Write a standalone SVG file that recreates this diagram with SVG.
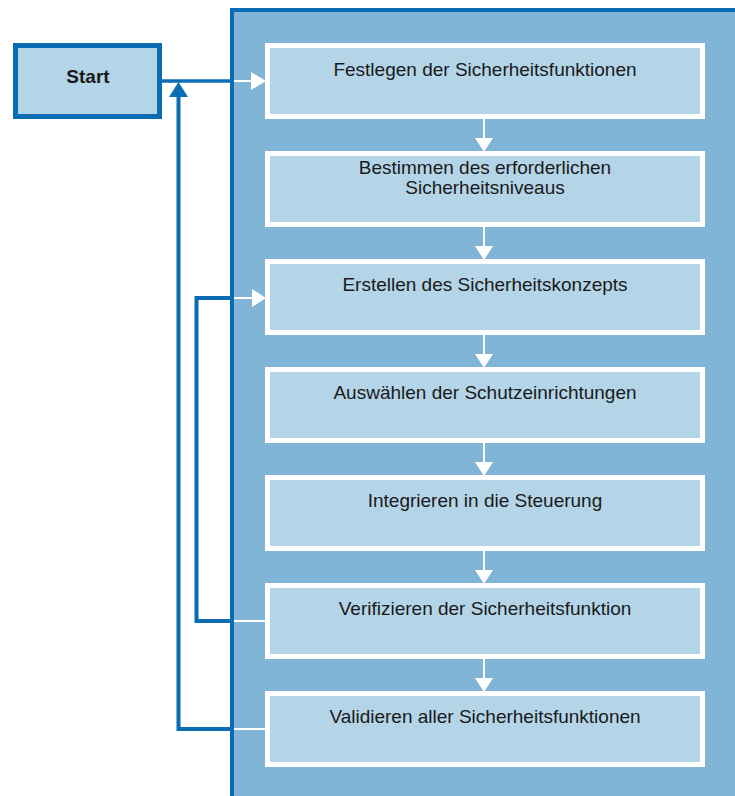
<svg xmlns="http://www.w3.org/2000/svg" width="735" height="796" viewBox="0 0 735 796">
<style>
.box{fill:#b4d4e8;stroke:#ffffff;stroke-width:5}
.lbl{font-family:"Liberation Sans",Arial,sans-serif;font-size:19px;fill:#1a1a1a;text-anchor:middle}
.blue{fill:none;stroke:#0a6db3;stroke-width:4}
.white{fill:none;stroke:#ffffff;stroke-width:2}
.wh{fill:#ffffff}
</style>
<rect width="735" height="796" fill="#ffffff"/>
<g id="panel">
<rect x="232" y="10" width="503" height="786" fill="#80b5d8"/>
<line x1="232" y1="10" x2="735" y2="10" stroke="#0a6db3" stroke-width="4"/>
<line x1="232" y1="8" x2="232" y2="796" stroke="#0a6db3" stroke-width="4"/>
</g>
<g id="start">
<rect x="15.5" y="45.5" width="144" height="71" fill="#b4d4e8" stroke="#0a6db3" stroke-width="5"/>
<text x="88" y="82.5" class="lbl" style="font-weight:bold">Start</text>
</g>
<g id="n1"><rect class="box" x="267.5" y="45.5" width="435" height="71"/><text class="lbl" x="485" y="76">Festlegen der Sicherheitsfunktionen</text></g>
<g id="n2"><rect class="box" x="267.5" y="153.5" width="435" height="71"/><text class="lbl" x="485" y="174">Bestimmen des erforderlichen</text><text class="lbl" x="485" y="193.5">Sicherheitsniveaus</text></g>
<g id="n3"><rect class="box" x="267.5" y="261.5" width="435" height="71"/><text class="lbl" x="485" y="291">Erstellen des Sicherheitskonzepts</text></g>
<g id="n4"><rect class="box" x="267.5" y="369.5" width="435" height="71"/><text class="lbl" x="485" y="399">Auswählen der Schutzeinrichtungen</text></g>
<g id="n5"><rect class="box" x="267.5" y="477.5" width="435" height="71"/><text class="lbl" x="485" y="507">Integrieren in die Steuerung</text></g>
<g id="n6"><rect class="box" x="267.5" y="585.5" width="435" height="71"/><text class="lbl" x="485" y="615">Verifizieren der Sicherheitsfunktion</text></g>
<g id="n7"><rect class="box" x="267.5" y="693.5" width="435" height="71"/><text class="lbl" x="485" y="723">Validieren aller Sicherheitsfunktionen</text></g>
<g id="connectors">
<line class="blue" x1="161" y1="81" x2="232" y2="81" style="stroke-width:3.5"/>
<line class="white" x1="234" y1="81" x2="252" y2="81"/>
<polygon class="wh" points="251,72 266,81 251,90"/>
<g>
<line class="white" x1="484" y1="119" x2="484" y2="140"/><polygon class="wh" points="475,138 493,138 484,152"/>
<line class="white" x1="484" y1="227" x2="484" y2="248"/><polygon class="wh" points="475,246 493,246 484,260"/>
<line class="white" x1="484" y1="335" x2="484" y2="356"/><polygon class="wh" points="475,354 493,354 484,368"/>
<line class="white" x1="484" y1="443" x2="484" y2="464"/><polygon class="wh" points="475,462 493,462 484,476"/>
<line class="white" x1="484" y1="551" x2="484" y2="572"/><polygon class="wh" points="475,570 493,570 484,584"/>
<line class="white" x1="484" y1="659" x2="484" y2="680"/><polygon class="wh" points="475,678 493,678 484,692"/>
</g>
<line class="white" x1="234" y1="621" x2="266" y2="621"/>
<polyline class="blue" points="232,621 196.5,621 196.5,298 232,298"/>
<line class="white" x1="234" y1="298" x2="253" y2="298"/>
<polygon class="wh" points="252,289 266,298 252,307"/>
<line class="white" x1="234" y1="729" x2="266" y2="729"/>
<polyline class="blue" points="232,729 178.5,729 178.5,95"/>
<polygon fill="#0a6db3" points="169,97 188,97 178.5,82"/>
</g>
</svg>
